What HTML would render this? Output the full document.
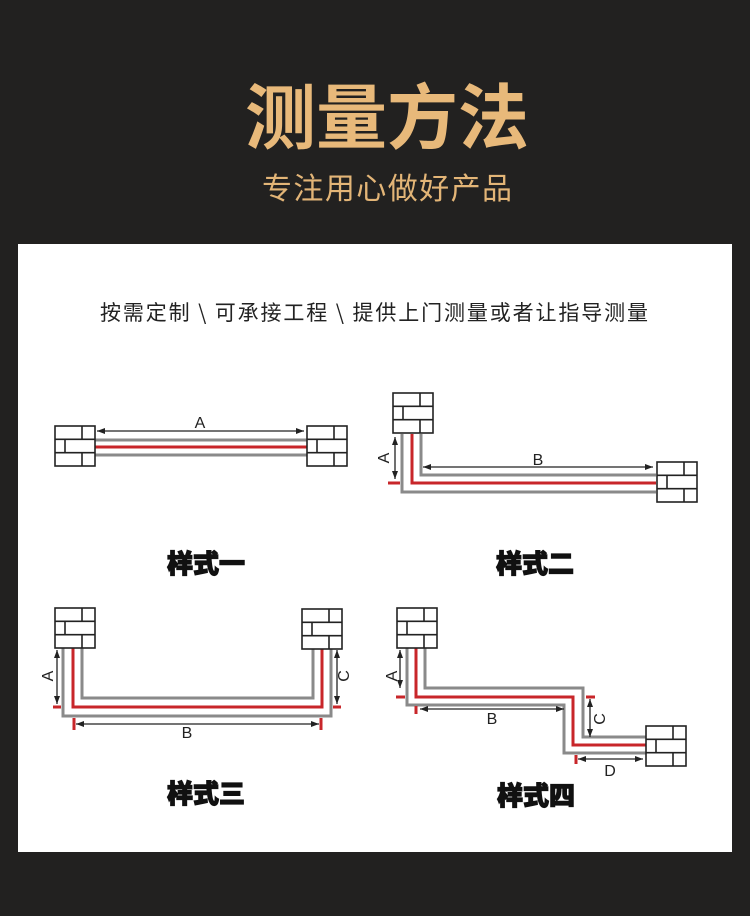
<!DOCTYPE html>
<html><head><meta charset="utf-8"><style>
html,body{margin:0;padding:0;background:#222120;}
body{width:750px;height:911px;overflow:hidden;}
</style></head><body>
<svg width="750" height="911" viewBox="0 0 750 911" xmlns="http://www.w3.org/2000/svg" font-family="Liberation Sans, Noto Sans CJK SC, sans-serif">
<defs>
<g id="bx">
<rect x="0" y="0" width="40" height="40" fill="#fff" stroke="#222" stroke-width="1.6"/>
<line x1="0" y1="13.3" x2="40" y2="13.3" stroke="#222" stroke-width="1.6"/>
<line x1="0" y1="26.7" x2="40" y2="26.7" stroke="#222" stroke-width="1.6"/>
<line x1="27" y1="0" x2="27" y2="13.3" stroke="#222" stroke-width="1.6"/>
<line x1="10" y1="13.3" x2="10" y2="26.7" stroke="#222" stroke-width="1.6"/>
<line x1="27" y1="26.7" x2="27" y2="40" stroke="#222" stroke-width="1.6"/>
</g>
<marker id="ar" markerWidth="8" markerHeight="6" refX="8" refY="3" orient="auto-start-reverse" markerUnits="userSpaceOnUse"><path d="M0,0 L8,3 L0,6z" fill="#222"/></marker>
</defs>
<rect width="750" height="911" fill="#222120"/>
<text x="387" y="143" font-size="71" font-weight="bold" fill="#e8b97a" text-anchor="middle" font-family="Noto Sans CJK SC, sans-serif" textLength="284">测量方法</text>
<text x="387" y="199" font-size="30" fill="#e3b577" text-anchor="middle" font-family="Noto Sans CJK SC, sans-serif" textLength="250">专注用心做好产品</text>
<rect x="18" y="244" width="714" height="608" fill="#fff"/>
<text x="374" y="320" font-size="21" fill="#222" text-anchor="middle" font-family="Noto Sans CJK SC, sans-serif" textLength="548">按需定制 \ 可承接工程 \ 提供上门测量或者让指导测量</text>

<g fill="none" stroke-width="3">
<line x1="94" y1="440" x2="307" y2="440" stroke="#8a8a8a"/>
<line x1="94" y1="447" x2="307" y2="447" stroke="#c8262a"/>
<line x1="94" y1="455" x2="307" y2="455" stroke="#8a8a8a"/>
<polyline points="421,434 421,475 656,475" stroke="#8a8a8a"/>
<polyline points="412,434 412,483 656,483" stroke="#c8262a"/>
<polyline points="402,434 402,492 656,492" stroke="#8a8a8a"/>
<line x1="388" y1="483" x2="400" y2="483" stroke="#c8262a"/>
<polyline points="82,648 82,698 313,698 313,649" stroke="#8a8a8a"/>
<polyline points="73,648 73,707 322,707 322,649" stroke="#c8262a"/>
<polyline points="63,648 63,716 331,716 331,649" stroke="#8a8a8a"/>
<line x1="53" y1="707" x2="61" y2="707" stroke="#c8262a"/>
<line x1="333" y1="707" x2="341" y2="707" stroke="#c8262a"/>
<line x1="74" y1="718" x2="74" y2="730" stroke="#c8262a"/>
<line x1="321" y1="718" x2="321" y2="730" stroke="#c8262a"/>
<polyline points="425,648 425,688 583,688 583,737 646,737" stroke="#8a8a8a"/>
<polyline points="416,648 416,697 573,697 573,745 646,745" stroke="#c8262a"/>
<polyline points="407,648 407,705 564,705 564,753 646,753" stroke="#8a8a8a"/>
<line x1="396" y1="697" x2="405" y2="697" stroke="#c8262a"/>
<line x1="416" y1="706" x2="416" y2="714" stroke="#c8262a"/>
<line x1="586" y1="697" x2="595" y2="697" stroke="#c8262a"/>
<line x1="576" y1="755" x2="576" y2="764" stroke="#c8262a"/>
</g>

<g stroke="#222" stroke-width="1.3">
<line x1="97" y1="431" x2="304" y2="431" marker-start="url(#ar)" marker-end="url(#ar)"/>
<line x1="423" y1="467" x2="653" y2="467" marker-start="url(#ar)" marker-end="url(#ar)"/>
<line x1="395" y1="437" x2="395" y2="479" marker-start="url(#ar)" marker-end="url(#ar)"/>
<line x1="57" y1="650" x2="57" y2="704" marker-start="url(#ar)" marker-end="url(#ar)"/>
<line x1="337" y1="650" x2="337" y2="704" marker-start="url(#ar)" marker-end="url(#ar)"/>
<line x1="76" y1="724" x2="319" y2="724" marker-start="url(#ar)" marker-end="url(#ar)"/>
<line x1="400" y1="650" x2="400" y2="688" marker-start="url(#ar)" marker-end="url(#ar)"/>
<line x1="420" y1="709" x2="564" y2="709" marker-start="url(#ar)" marker-end="url(#ar)"/>
<line x1="590" y1="699" x2="590" y2="737" marker-start="url(#ar)" marker-end="url(#ar)"/>
<line x1="578" y1="759" x2="643" y2="759" marker-start="url(#ar)" marker-end="url(#ar)"/>
</g>

<use href="#bx" x="55" y="426"/><use href="#bx" x="307" y="426"/>
<use href="#bx" x="393" y="393"/><use href="#bx" x="657" y="462"/>
<use href="#bx" x="55" y="608"/><use href="#bx" x="302" y="609"/>
<use href="#bx" x="397" y="608"/><use href="#bx" x="646" y="726"/>

<g font-size="16" fill="#222" text-anchor="middle">
<text x="200" y="428">A</text>
<text x="538" y="465">B</text>
<text transform="translate(389,458) rotate(-90)">A</text>
<text transform="translate(53,676) rotate(-90)">A</text>
<text transform="translate(349,676) rotate(-90)">C</text>
<text x="187" y="738">B</text>
<text transform="translate(397,676) rotate(-90)">A</text>
<text x="492" y="724">B</text>
<text transform="translate(605,719) rotate(-90)">C</text>
<text x="610" y="776">D</text>
</g>

<g font-size="26" font-weight="900" fill="#111" stroke="#111" stroke-width="1.2" text-anchor="middle" font-family="Noto Sans CJK SC, sans-serif">
<text x="206" y="573">样式一</text>
<text x="535" y="573">样式二</text>
<text x="206" y="803">样式三</text>
<text x="536" y="805">样式四</text>
</g>
</svg>
</body></html>
